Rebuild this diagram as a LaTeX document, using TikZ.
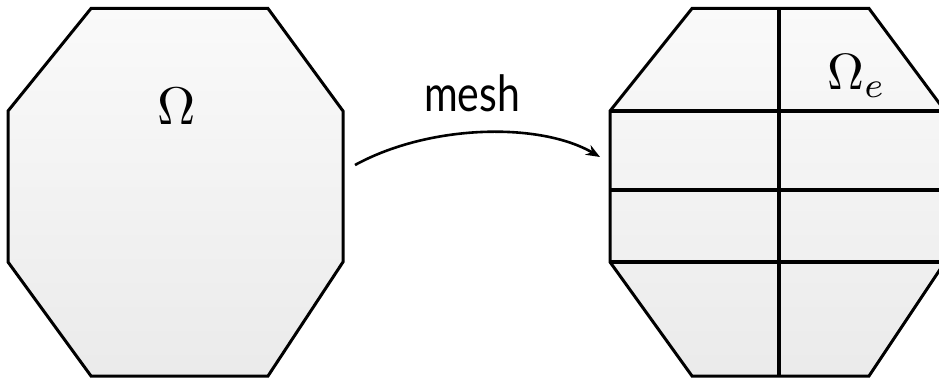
\documentclass[tikz,border=0pt]{standalone}
\usepackage{fontspec}
\usetikzlibrary{arrows.meta}
\newfontfamily\meshfont{Lato}
\begin{document}
\begin{tikzpicture}[x=1pt,y=-1pt,
  region/.style={draw=black,line width=3pt,line join=miter,top color=white!98!black,bottom color=black!8},
  gridline/.style={draw=black,line width=3.6pt},
  lbl/.style={inner sep=0pt},
  arr/.style={line width=2.6pt,-{Stealth[length=14pt,width=11pt]}}]
\useasboundingbox (0,0) rectangle (939,382);
\clip (0,0) rectangle (939,382);
% left domain
\path[region] (91,8.5) -- (268,8.5) -- (343,111) -- (343,262) -- (268,376) -- (91,376) -- (8,262) -- (8,111) -- cycle;
\node[lbl,anchor=base] (omega) at (177,125) {\scalebox{5.3}{$\Omega$}};
% right meshed domain
\path[region] (692,8.5) -- (869,8.5) -- (945,111) -- (945,262) -- (869,376) -- (692,376) -- (610,262) -- (610,111) -- cycle;
\coordinate (h1l) at (610,111); \coordinate (h1r) at (945,111);
\coordinate (h2l) at (610,190); \coordinate (h2r) at (945,190);
\coordinate (h3l) at (610,262); \coordinate (h3r) at (945,262);
\coordinate (vt) at (779,8.5); \coordinate (vb) at (779,376);
\draw[gridline] (h1l) -- (h1r);
\draw[gridline] (h2l) -- (h2r);
\draw[gridline] (h3l) -- (h3r);
\draw[gridline] (vt) -- (vb);
\node[lbl,anchor=base west] (omegae) at (827,90) {\scalebox{5.1}{$\Omega_e$}};
% arrow
\coordinate (as) at (355,165);
\coordinate (ae) at (600,157);
\draw[arr] (as) .. controls (430,124) and (540,122) .. (ae);
\node[inner sep=0pt,anchor=base,font=\meshfont\fontsize{50}{56}\selectfont] (mesh) at (472,112) {\scalebox{0.82}[1]{mesh}};
\end{tikzpicture}
\end{document}
